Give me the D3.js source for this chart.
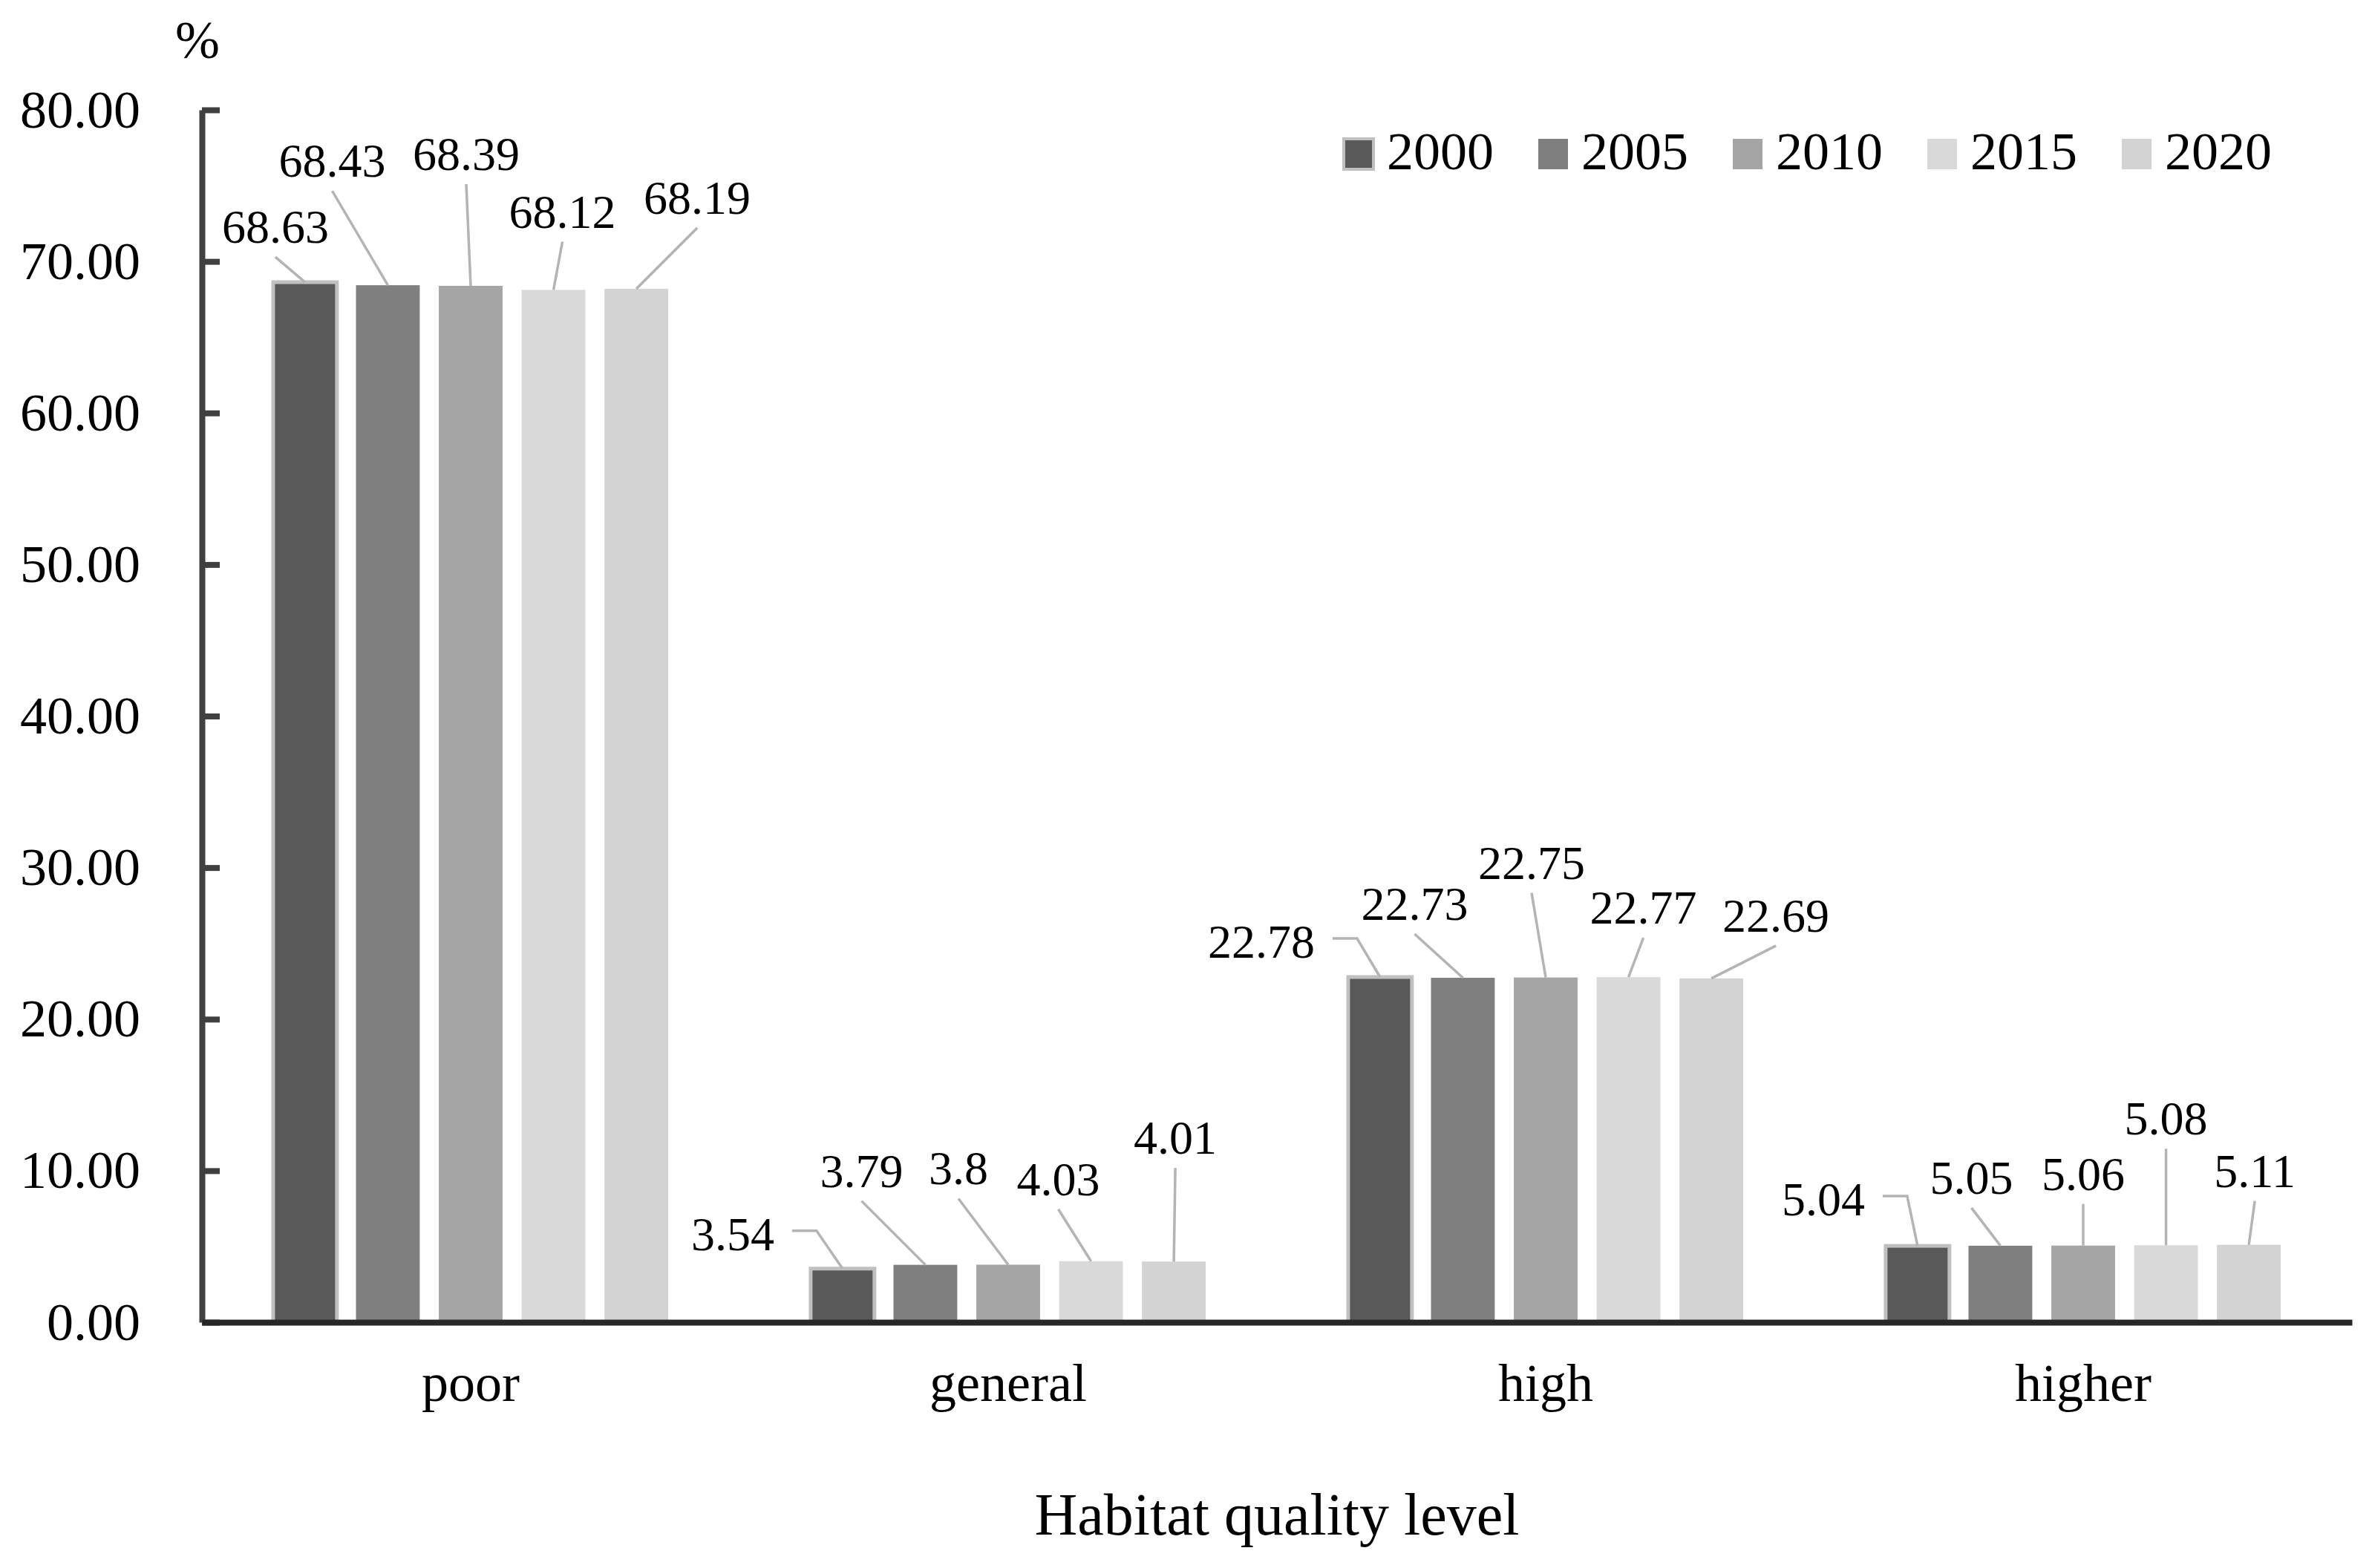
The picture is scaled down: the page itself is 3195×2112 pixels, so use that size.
<!DOCTYPE html>
<html>
<head>
  <title>Habitat quality level</title>
  <style>
    body {
      background-color: white;
      margin: 0;
      padding: 0;
    }
    svg {
      display: block;
    }
  </style>
</head>
<body>
  <div id="chart-container"></div>

  <script src="https://d3js.org/d3.v7.min.js"></script>
  <script>
    // Chart data
    const categories = ['poor', 'general', 'high', 'higher'];
    const years = ['2000', '2005', '2010', '2015', '2020'];
    const values2000 = [68.63, 3.54, 22.78, 5.04];
    const values2005 = [68.43, 3.79, 22.73, 5.05];
    const values2010 = [68.39, 3.8, 22.75, 5.06];
    const values2015 = [68.12, 4.03, 22.77, 5.08];
    const values2020 = [68.19, 4.01, 22.69, 5.11];
    const yTicks = [0, 10, 20, 30, 40, 50, 60, 70, 80];

    const seriesValues = [values2000, values2005, values2010, values2015, values2020];
    const colors = ['#595959', '#7f7f7f', '#a5a5a5', '#d9d9d9', '#d3d3d3'];

    // where each data label sits relative to the top of its bar: [dx, dy, elbow]
    const labelOffsets = [
      [[-40, -76, false], [-75, -169, false], [-6, -179, false], [12, -107, false], [82, -124, false]],
      [[-148, -48, true], [-86, -128, false], [-67, -131, false], [-44, -112, false], [2, -168, false]],
      [[-160, -49, true], [-65, -101, false], [-19, -156, false], [20, -95, false], [87, -86, false]],
      [[-127, -64, true], [-39, -93, false], [0, -98, false], [0, -172, false], [8, -101, false]]
    ];

    const width = 3195;
    const height = 2112;
    const font = '"Liberation Serif", "Times New Roman", serif';

    const svg = d3.select('#chart-container').append('svg')
      .attr('width', width)
      .attr('height', height)
      .style('background', '#fff');

    const x0 = d3.scaleBand()
      .domain(categories)
      .range([272, 3168])
      .padding(0);

    const x1 = d3.scaleBand()
      .domain(years)
      .range([0, x0.bandwidth()])
      .paddingInner(0.23)
      .paddingOuter(0.86);

    const y = d3.scaleLinear()
      .domain([0, 80])
      .range([1781, 148]);

    // bars
    categories.forEach((cat, i) => {
      const g = svg.append('g').attr('transform', `translate(${x0(cat)},0)`);
      g.selectAll('rect')
        .data(years)
        .enter()
        .append('rect')
        .attr('x', d => x1(d))
        .attr('y', (d, j) => y(seriesValues[j][i]))
        .attr('width', x1.bandwidth())
        .attr('height', (d, j) => y(0) - y(seriesValues[j][i]))
        .attr('fill', (d, j) => colors[j])
        .attr('stroke', (d, j) => j === 0 ? '#c0c0c0' : 'none')
        .attr('stroke-width', 5);
    });

    // y axis
    const yAxis = svg.append('g')
      .attr('transform', 'translate(272,0)')
      .call(d3.axisLeft(y)
        .tickValues(yTicks)
        .tickSize(-24)
        .tickSizeOuter(0)
        .tickPadding(83)
        .tickFormat(d => d.toFixed(2)));
    yAxis.select('.domain').attr('stroke', '#404040').attr('stroke-width', 8);
    yAxis.selectAll('.tick line').attr('stroke', '#404040').attr('stroke-width', 8);
    yAxis.selectAll('.tick text')
      .attr('font-family', font)
      .attr('font-size', 72)
      .attr('fill', '#000');

    // x axis
    const xAxis = svg.append('g')
      .attr('transform', `translate(0,${y(0)})`)
      .call(d3.axisBottom(x0).tickSize(0).tickSizeOuter(0).tickPadding(55));
    xAxis.select('.domain').attr('stroke', '#262626').attr('stroke-width', 8);
    xAxis.selectAll('.tick text')
      .attr('font-family', font)
      .attr('font-size', 72)
      .attr('fill', '#000');

    // data labels with leader lines
    const labelLayer = svg.append('g');
    categories.forEach((cat, i) => {
      years.forEach((yr, j) => {
        const v = seriesValues[j][i];
        const bx = x0(cat) + x1(yr) + x1.bandwidth() / 2;
        const by = y(v);
        const [dx, dy, elbow] = labelOffsets[i][j];
        const lx = bx + dx;
        const ly = by + dy;

        const txt = labelLayer.append('text')
          .attr('x', lx)
          .attr('y', ly + 23)
          .attr('text-anchor', 'middle')
          .attr('font-family', font)
          .attr('font-size', 64)
          .attr('fill', '#000')
          .text(String(v));

        let path;
        if (elbow) {
          const w = txt.node().getComputedTextLength();
          const sx = lx + w / 2 + 24;
          const sy = ly - 3;
          path = `M${sx},${sy}L${sx + 33},${sy}L${bx},${by}`;
        } else {
          path = `M${lx},${ly + 42}L${bx},${by}`;
        }
        labelLayer.append('path')
          .attr('d', path)
          .attr('fill', 'none')
          .attr('stroke', '#b4b4b4')
          .attr('stroke-width', 3.5);
      });
    });

    // legend
    const legend = svg.append('g');
    years.forEach((yr, j) => {
      const lx = 1810 + j * 262;
      legend.append('rect')
        .attr('x', lx)
        .attr('y', 187)
        .attr('width', 40)
        .attr('height', 41)
        .attr('fill', colors[j])
        .attr('stroke', j === 0 ? '#c0c0c0' : 'none')
        .attr('stroke-width', 4);
      legend.append('text')
        .attr('x', lx + 58)
        .attr('y', 228)
        .attr('font-family', font)
        .attr('font-size', 72)
        .attr('fill', '#000')
        .text(yr);
    });

    // unit and axis title
    svg.append('text')
      .attr('x', 266)
      .attr('y', 78)
      .attr('text-anchor', 'middle')
      .attr('font-family', font)
      .attr('font-size', 72)
      .attr('fill', '#000')
      .text('%');

    svg.append('text')
      .attr('x', (x0.range()[0] + x0.range()[1]) / 2)
      .attr('y', 2067)
      .attr('text-anchor', 'middle')
      .attr('font-family', font)
      .attr('font-size', 80)
      .attr('fill', '#000')
      .text('Habitat quality level');
  </script>
</body>
</html>
